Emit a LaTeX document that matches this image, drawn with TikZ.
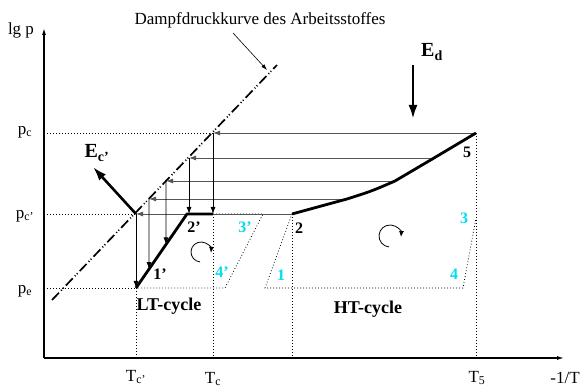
\documentclass[tikz,border=0pt]{standalone}
\usepackage{fontspec}
\setmainfont{Liberation Serif}
\usetikzlibrary{positioning,calc,arrows.meta}
\definecolor{Cyan}{HTML}{00DDEE}
\definecolor{Flow}{HTML}{555555}

\begin{document}
\begin{tikzpicture}[
	x=1pt,y=1pt,
	axisline/.style={line width=1.2pt,-{Latex[length=7pt,width=4pt]}},
	guide/.style={line width=0.8pt,dash pattern=on 0.8pt off 2.2pt},
	flowline/.style={line width=0.9pt,draw=Flow,-{Latex[length=7pt,width=5pt]}},
	dropline/.style={line width=0.9pt,-{Latex[length=7pt,width=5pt]}},
	heatline/.style={line width=2.8pt,line join=round},
	energy/.style={line width=2.6pt,-{Latex[length=14pt,width=9pt]}},
	spin/.style={line width=0.8pt,-{Latex[length=6pt,width=5pt]}},
	lbl/.style={font=\fontsize{17}{19}\selectfont},
	num/.style={font=\fontsize{16}{18}\selectfont\bfseries},
	cnum/.style={num,text=Cyan}
	]
	
	\useasboundingbox (0,0) rectangle (581,390);
	
	% ---------------------------------------------------------
	% AXES
	% ---------------------------------------------------------
	
	\coordinate (origin) at (44,32);
	\coordinate (ytop) at (44,362);
	\coordinate (xend) at (564,32);
	
	\draw[axisline] (origin) -- (ytop);
	\draw[axisline] (origin) -- (xend);
	
	\node[lbl] (lgp) at (21,360) {lg p};
	\node[lbl] (invT) at (565,12) {-1/T};
	
	% ---------------------------------------------------------
	% POINTS
	% ---------------------------------------------------------
	
	\coordinate (vlow) at (52,90);
	\coordinate (vhigh) at (277,325);
	
	\coordinate (crit) at (136,176);
	\coordinate (onep) at (136,102);
	\coordinate (bend) at (187,176);
	\coordinate (twop) at (213,176);
	\coordinate (two) at (292,176);
	\coordinate (five) at (476,257);
	
	\coordinate (ht1) at (347,191);
	\coordinate (ht2) at (395,209);
	\coordinate (ht3) at (434,232);
	
	\coordinate (va) at (213,257);
	\coordinate (vb) at (189,232);
	\coordinate (vc) at (166,209);
	\coordinate (vd) at (149,191);
	
	% feet of the drops on the LT line
	\coordinate (fc) at ($(onep)!0.588!(bend)$);
	\coordinate (fd) at ($(onep)!0.255!(bend)$);
	
	% ---------------------------------------------------------
	% LEVEL LINES
	% ---------------------------------------------------------
	
	\draw[guide] (44,257) -- (va);
	\draw[guide] (44,176) -- (crit);
	\draw[guide] (44,102) -- (onep);
	
	\draw[guide] (onep) -- (136,32);
	\draw[guide] (twop) -- (213,32);
	\draw[guide] (two) -- (292,32);
	\draw[guide] (five) -- (476,32);
	
	\node[lbl] (pc) at (25,258) {p\textsubscript{c}};
	\node[lbl] (pcs) at (25,174) {p\textsubscript{c’}};
	\node[lbl] (pe) at (25,99) {p\textsubscript{e}};
	\node[lbl] (Tcs) at (136,13) {T\textsubscript{c’}};
	\node[lbl] (Tc) at (213,11) {T\textsubscript{c}};
	\node[lbl] (T5) at (477,12) {T\textsubscript{5}};
	
	% ---------------------------------------------------------
	% DOTTED CYCLES
	% ---------------------------------------------------------
	
	\draw[guide] (twop) -- (263,176) -- (225,102) -- (onep);
	\draw[guide] (two) -- (265,102) -- (463,102) -- (476,172);
	
	% ---------------------------------------------------------
	% VAPOUR PRESSURE CURVE
	% ---------------------------------------------------------
	
	\draw[line width=1.7pt,dash pattern=on 10pt off 3pt on 1pt off 2pt on 1pt off 3pt]
	(vlow) -- (vhigh);
	
	\coordinate (notetail) at (233,357);
	\coordinate (notehead) at (267,320);
	\draw[line width=0.6pt,-{Latex[length=6pt,width=4pt]}] (notetail) -- (notehead);
	\node[lbl] (note) at (260,370) {Dampfdruckkurve des Arbeitsstoffes};
	
	% ---------------------------------------------------------
	% HEAT TRANSFER LINES
	% ---------------------------------------------------------
	
	\draw[flowline] (five) -- (va);
	\draw[flowline] (ht3) -- (vb);
	\draw[flowline] (ht2) -- (vc);
	\draw[flowline] (ht1) -- (vd);
	\draw[flowline] (two) -- (crit);
	
	\draw[dropline] (va) -- (twop);
	\draw[dropline] (vb) -- (vb |- bend);
	\draw[dropline] (vc) -- (fc);
	\draw[dropline] (vd) -- (fd);
	\draw[dropline] (crit) -- (onep);
	
	% ---------------------------------------------------------
	% CYCLE LINES
	% ---------------------------------------------------------
	
	\draw[heatline] (onep) -- (bend) -- (twop);
	\draw[heatline] (two) .. controls (320,183) .. (ht1)
	.. controls (372,199) .. (ht2) -- (ht3) -- (five);
	
	\node[num] (l1p) at (160,116) {1’};
	\node[num] (l2p) at (194,163) {2’};
	\node[num] (l2) at (299,162) {2};
	\node[num] (l5) at (467,238) {5};
	
	\node[cnum] (c3p) at (245,163) {3’};
	\node[cnum] (c4p) at (222,118) {4’};
	\node[cnum] (c1) at (281,115) {1};
	\node[cnum] (c3) at (464,172) {3};
	\node[cnum] (c4) at (454,116) {4};
	
	\draw[spin] ($(201,138)+(265:10)$) arc[start angle=265,end angle=-5,radius=10];
	\draw[spin] ($(390,154)+(265:11)$) arc[start angle=265,end angle=-5,radius=11];
	
	\node[font=\fontsize{18}{20}\selectfont\bfseries] (lt) at (169,84) {LT-cycle};
	\node[font=\fontsize{18}{20}\selectfont\bfseries] (ht) at (368,81) {HT-cycle};
	
	% ---------------------------------------------------------
	% ENERGY ARROWS
	% ---------------------------------------------------------
	
	\coordinate (ecend) at (93,223);
	\draw[energy] (crit) -- (ecend);
	\node[font=\fontsize{20}{22}\selectfont\bfseries] (Ec) at (97,237) {E\textsubscript{c’}};
	
	\coordinate (edtop) at (413,325);
	\coordinate (edend) at (413,271);
	\draw[energy] (edtop) -- (edend);
	\node[font=\fontsize{20}{22}\selectfont\bfseries] (Ed) at (432,338) {E\textsubscript{d}};
	
\end{tikzpicture}
\end{document}
